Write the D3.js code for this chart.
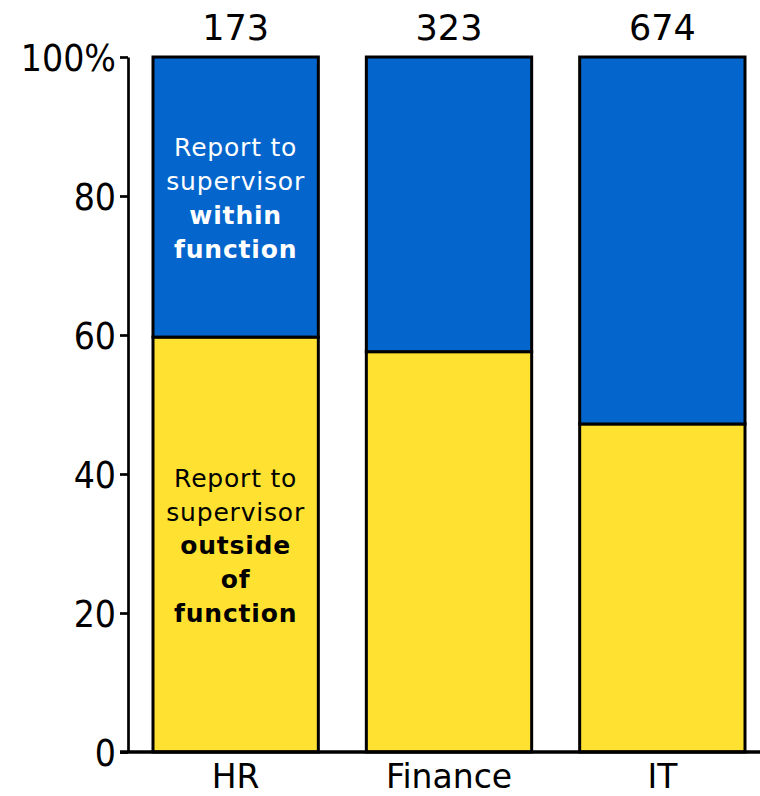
<!DOCTYPE html>
<html><head><meta charset="utf-8">
<script src="https://cdn.jsdelivr.net/npm/d3@7"></script>
<style>body{margin:0;background:#fff}svg{display:block}text{font-family:"DejaVu Sans",Verdana,sans-serif}</style>
</head><body><svg id="c" width="760" height="796"></svg>
<script>
const categories = ["HR", "Finance", "IT"];
const outsideValues = [59.7, 57.6, 47.2];
const withinValues = [40.3, 42.4, 52.8];
const counts = ["173", "323", "674"];
const yTicks = [0, 20, 40, 60, 80, 100];
const yTickLabels = ["0", "20", "40", "60", "80", "100%"];
const seriesNames = ["outside", "within"];
const colors = {outside: "#FFE231", within: "#0466CC"};

const svg = d3.select("#c");
const y = d3.scaleLinear().domain([0, 100]).range([752, 57]);
const x = d3.scaleBand().domain(categories).range([129, 769]).paddingInner(0.225).paddingOuter(0.1125);

const rows = categories.map((c, i) => ({cat: c, outside: outsideValues[i], within: withinValues[i]}));
const stack = d3.stack().keys(seriesNames)(rows);

svg.append("g").selectAll("g").data(stack).join("g")
  .attr("fill", d => colors[d.key])
  .selectAll("rect").data(d => d).join("rect")
  .attr("x", d => x(d.data.cat))
  .attr("width", x.bandwidth())
  .attr("y", d => y(d[1]))
  .attr("height", d => y(d[0]) - y(d[1]))
  .attr("stroke", "#000").attr("stroke-width", 3);

// y axis
const yAxis = svg.append("g").attr("transform", "translate(128,0)")
  .call(d3.axisLeft(y).tickValues(yTicks).tickFormat((d, i) => yTickLabels[i]).tickSize(8).tickSizeOuter(0));
yAxis.select(".domain").attr("stroke-width", 2.7);
yAxis.selectAll(".tick line").attr("stroke-width", 2.7);
yAxis.selectAll(".tick text").attr("font-size", 37).attr("x", -12).attr("dy", "0.36em")
  .style("font-family", "'DejaVu Sans Condensed', 'DejaVu Sans'");

// x axis
const xAxis = svg.append("g").attr("transform", "translate(0,752)")
  .call(d3.axisBottom(x).tickSize(0).tickSizeOuter(0));
xAxis.select(".domain").attr("stroke-width", 3.5).attr("d", "M120,0H760");
xAxis.selectAll(".tick text").attr("font-size", 33).attr("y", 36).attr("dy", 0).style("font-family", "DejaVu Sans");

// counts
svg.append("g").selectAll("text").data(categories).join("text")
  .attr("x", d => x(d) + x.bandwidth() / 2).attr("y", 40)
  .attr("text-anchor", "middle").attr("font-size", 35).attr("fill", "#000")
  .text((d, i) => counts[i]);

// in-bar labels for HR
const cx = x("HR") + x.bandwidth() / 2;
const withinLines = [["Report to", "normal"], ["supervisor", "normal"], ["within", "bold"], ["function", "bold"]];
const outsideLines = [["Report to", "normal"], ["supervisor", "normal"], ["outside", "bold"], ["of", "bold"], ["function", "bold"]];
svg.append("g").selectAll("text").data(withinLines).join("text")
  .attr("x", cx).attr("y", (d, i) => 156 + i * 34)
  .attr("text-anchor", "middle").attr("font-size", 25).attr("letter-spacing", 0.8).attr("fill", "#fff")
  .attr("font-weight", d => d[1]).text(d => d[0]);
svg.append("g").selectAll("text").data(outsideLines).join("text")
  .attr("x", cx).attr("y", (d, i) => 487 + i * 33.7)
  .attr("text-anchor", "middle").attr("font-size", 25).attr("letter-spacing", 0.8).attr("fill", "#000")
  .attr("font-weight", d => d[1]).text(d => d[0]);
</script></body></html>
